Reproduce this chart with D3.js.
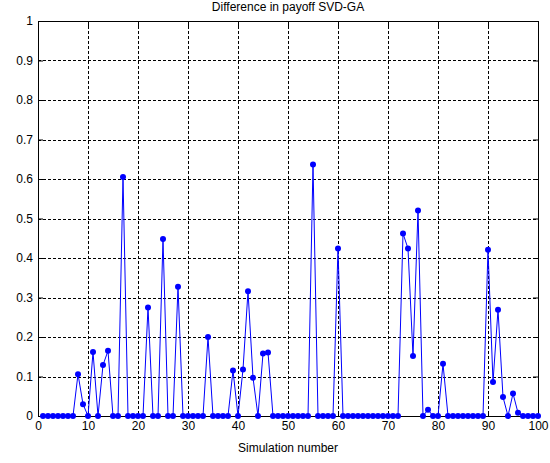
<!DOCTYPE html>
<html>
<head>
<meta charset="utf-8">
<script src="https://cdn.jsdelivr.net/npm/d3@7"></script>
<style>
  html, body { margin: 0; padding: 0; background: #fff; }
  svg { display: block; }
  text { font-family: "Liberation Sans", Arial, Helvetica, sans-serif; }
</style>
</head>
<body>
<svg id="chart" width="550" height="463"></svg>
<script>
// Payoff difference (SVD minus GA) for each simulation run
const simulations = d3.range(1, 101);
const payoffDiff = [
  0, 0, 0, 0, 0, 0, 0, 0.106, 0.030, 0,
  0.162, 0, 0.129, 0.165, 0, 0, 0.605, 0, 0, 0,
  0, 0.275, 0, 0, 0.448, 0, 0, 0.327, 0, 0,
  0, 0, 0, 0.200, 0, 0, 0, 0, 0.115, 0,
  0.118, 0.316, 0.097, 0, 0.158, 0.161, 0, 0, 0, 0,
  0, 0, 0, 0, 0.637, 0, 0, 0, 0, 0.424,
  0, 0, 0, 0, 0, 0, 0, 0, 0, 0,
  0, 0, 0.462, 0.424, 0.152, 0.520, 0, 0.016, 0, 0,
  0.132, 0, 0, 0, 0, 0, 0, 0, 0, 0.421,
  0.086, 0.269, 0.048, 0, 0.057, 0.008, 0, 0, 0, 0
];
const xTicks = [0, 10, 20, 30, 40, 50, 60, 70, 80, 90, 100];
const yTicks = [0, 0.1, 0.2, 0.3, 0.4, 0.5, 0.6, 0.7, 0.8, 0.9, 1];
const titleText = "Difference in payoff SVD-GA";
const xLabelText = "Simulation number";

const svg = d3.select("#chart");
const margin = { left: 38, right: 12, top: 21, bottom: 47 };
const W = 550, H = 463;
const iw = W - margin.left - margin.right;
const ih = H - margin.top - margin.bottom;

const x = d3.scaleLinear().domain([0, 100]).range([0, iw]);
const y = d3.scaleLinear().domain([0, 1]).range([ih, 0]);

const g = svg.append("g").attr("transform", `translate(${margin.left},${margin.top})`);

// dashed grid
const grid = g.append("g").attr("class", "grid");
grid.selectAll("line.vx").data(xTicks.slice(1, -1)).join("line")
  .attr("x1", d => x(d) + 0.5).attr("x2", d => x(d) + 0.5)
  .attr("y1", 0).attr("y2", ih)
  .attr("stroke", "#000").attr("stroke-width", 1).attr("stroke-dasharray", "3,2");
grid.selectAll("line.hy").data(yTicks.slice(1, -1)).join("line")
  .attr("x1", 0).attr("x2", iw)
  .attr("y1", d => Math.round(y(d)) + 0.5).attr("y2", d => Math.round(y(d)) + 0.5)
  .attr("stroke", "#000").attr("stroke-width", 1).attr("stroke-dasharray", "3,2");

// axes with inward ticks
const fmtY = d => d === 0 ? "0" : d === 1 ? "1" : d3.format(".1f")(d);
const xAxis = g.append("g").attr("transform", `translate(0,${ih})`)
  .call(d3.axisBottom(x).tickValues(xTicks).tickSize(-5).tickPadding(5).tickFormat(d3.format("d")));
const yAxis = g.append("g")
  .call(d3.axisLeft(y).tickValues(yTicks).tickSize(-5).tickPadding(5).tickFormat(fmtY));
const xTop = g.append("g")
  .call(d3.axisTop(x).tickValues(xTicks).tickSize(-5).tickFormat(""));
const yRight = g.append("g").attr("transform", `translate(${iw},0)`)
  .call(d3.axisRight(y).tickValues(yTicks).tickSize(-5).tickFormat(""));

[xAxis, yAxis, xTop, yRight].forEach(a => {
  a.select(".domain").remove();
  a.selectAll("line").attr("stroke", "#000");
  a.selectAll("text").attr("font-size", 12).attr("fill", "#000")
    .attr("font-family", "'Liberation Sans', Arial, sans-serif");
});

// box
g.append("rect").attr("x", 0.5).attr("y", 0.5).attr("width", iw).attr("height", ih)
  .attr("fill", "none").attr("stroke", "#000").attr("stroke-width", 1);

// data line and markers
const pts = simulations.map((s, i) => ({ s, v: payoffDiff[i] }));
g.append("path").datum(pts)
  .attr("fill", "none").attr("stroke", "#0000ff").attr("stroke-width", 1)
  .attr("d", d3.line().x(d => x(d.s)).y(d => y(d.v)));
g.selectAll("circle.pt").data(pts).join("circle")
  .attr("class", "pt")
  .attr("cx", d => x(d.s)).attr("cy", d => y(d.v)).attr("r", 3)
  .attr("fill", "#0000ff");

// title and x label
svg.append("text").attr("x", margin.left + iw / 2).attr("y", 11)
  .attr("text-anchor", "middle").attr("font-size", 12).text(titleText);
svg.append("text").attr("x", margin.left + iw / 2).attr("y", 452)
  .attr("text-anchor", "middle").attr("font-size", 12).text(xLabelText);
</script>
</body>
</html>
